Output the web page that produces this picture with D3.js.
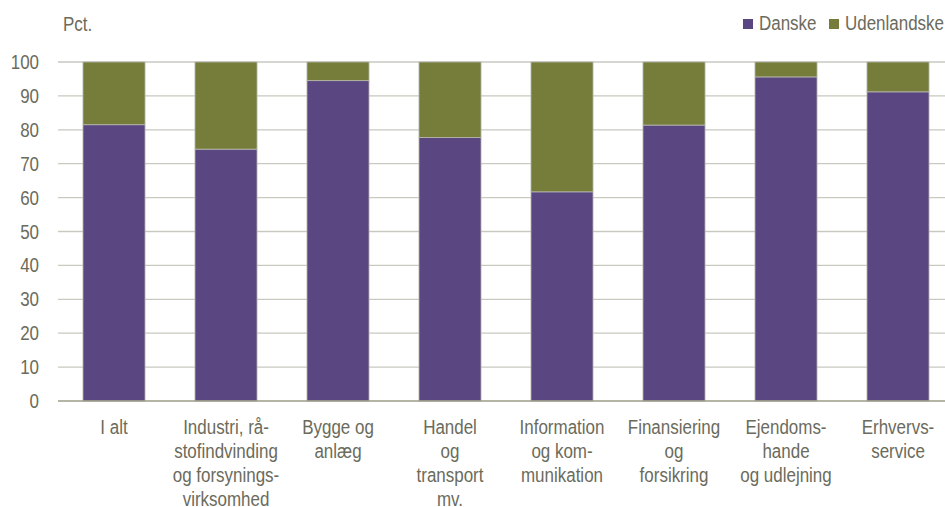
<!DOCTYPE html>
<html>
<head>
<meta charset="utf-8">
<title>Danske og udenlandske</title>
<style>
body{margin:0;background:#fff}
svg{display:block;font-family:"Liberation Sans",Arial,sans-serif}
</style>
</head>
<body>
<svg width="945" height="507"></svg>
<script src="https://cdn.jsdelivr.net/npm/d3@7"></script>
<script>
// data
var categories = ["I alt", "Industri, rå-\nstofindvinding\nog forsynings-\nvirksomhed", "Bygge og\nanlæg",
  "Handel\nog\ntransport\nmv.", "Information\nog kom-\nmunikation", "Finansiering\nog\nforsikring",
  "Ejendoms-\nhande\nog udlejning", "Erhvervs-\nservice"];
var danske = [81.5, 74.3, 94.5, 77.7, 61.7, 81.4, 95.6, 91.2];
var udenlandske = danske.map(function(d) { return 100 - d; });
var seriesNames = ["Danske", "Udenlandske"];
var yTicks = [0, 10, 20, 30, 40, 50, 60, 70, 80, 90, 100];

var colors = ["#5a4782", "#767d3a"];
var textCol = "#6b6b5c";
var fs = 19.5, squeeze = 0.87;

var svg = d3.select("svg");
var x = d3.scaleBand().domain(d3.range(categories.length)).range([58, 954]).paddingInner(0.446).paddingOuter(0.223);
var y = d3.scaleLinear().domain([0, 100]).range([401, 62]);

// narrow-looking text: scale horizontally
function label(parent, px, py, anchor) {
  return parent.append("g").attr("transform", "translate(" + px + "," + py + ")")
    .append("text").attr("transform", "scale(" + squeeze + ",1)")
    .attr("text-anchor", anchor).attr("font-size", fs).attr("fill", textCol);
}

// gridlines
svg.append("g").selectAll("line").data(yTicks.slice(1)).enter().append("line")
  .attr("x1", 58).attr("x2", 945)
  .attr("y1", function(d) { return y(d); }).attr("y2", function(d) { return y(d); })
  .attr("stroke", "#c9c9c0").attr("stroke-width", 1.3);

// stacked bars
var rows = categories.map(function(c, i) { return {i: i, Danske: danske[i], Udenlandske: udenlandske[i]}; });
var stack = d3.stack().keys(seriesNames)(rows);
svg.append("g").selectAll("g").data(stack).enter().append("g")
  .attr("fill", function(d, k) { return colors[k]; })
  .selectAll("rect").data(function(d) { return d; }).enter().append("rect")
  .attr("x", function(d) { return x(d.data.i); })
  .attr("width", x.bandwidth())
  .attr("y", function(d) { return y(d[1]); })
  .attr("height", function(d) { return y(d[0]) - y(d[1]); })
  .attr("stroke", "#b8b8b0").attr("stroke-width", 0.8);

// baseline
svg.append("line").attr("x1", 58).attr("x2", 945).attr("y1", y(0)).attr("y2", y(0))
  .attr("stroke", "#9c9c88").attr("stroke-width", 1.5);

// y axis labels
var ya = svg.append("g");
yTicks.forEach(function(t) { label(ya, 39, y(t) + 7, "end").text(t); });

label(svg, 63, 31, "start").text("Pct.");

// x labels
var xa = svg.append("g");
categories.forEach(function(c, i) {
  var t = label(xa, x(i) + x.bandwidth() / 2, 434, "middle");
  c.split("\n").forEach(function(line, j) {
    t.append("tspan").attr("x", 0).attr("y", j * 24).text(line);
  });
});

// legend
var leg = svg.append("g");
var legX = [743, 829];
seriesNames.forEach(function(s, k) {
  leg.append("rect").attr("x", legX[k]).attr("y", 19).attr("width", 10).attr("height", 10).attr("fill", colors[k]);
  label(leg, legX[k] + 16, 30, "start").text(s);
});
</script>
</body>
</html>
